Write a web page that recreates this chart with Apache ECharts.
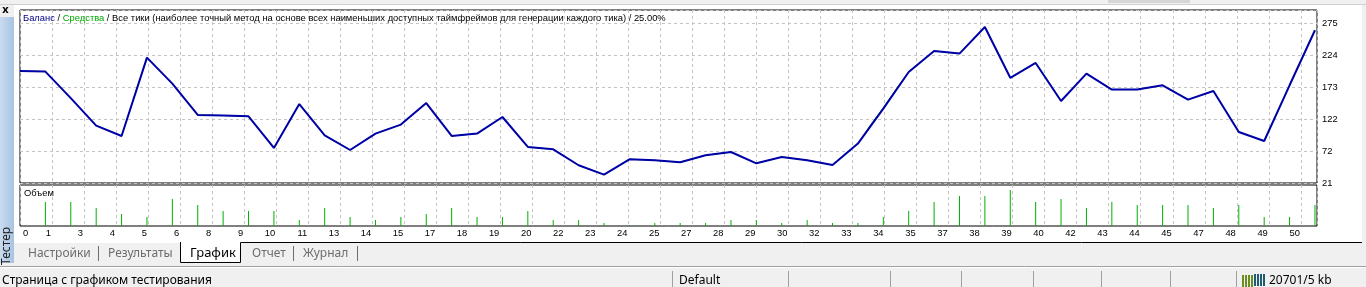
<!DOCTYPE html>
<html><head><meta charset="utf-8">
<script src="https://cdn.jsdelivr.net/npm/echarts@6/dist/echarts.min.js"></script>
<style>html,body{margin:0;padding:0;background:#f0f0f0;overflow:hidden}#c{width:1366px;height:287px;}</style>
</head><body><div id="c"></div>
<script>
// ---- data ----
const trades = [0,1,2,3,4,5,6,7,8,9,10,11,12,13,14,15,16,17,18,19,20,21,22,23,24,25,26,27,28,29,30,31,32,33,34,35,36,37,38,39,40,41,42,43,44,45,46,47,48,49,50,51];
const balance = [199.1,198.2,156.0,112.3,95.8,220.4,179.1,129.2,128.4,127.1,76.7,146.6,96.9,73.5,99.6,113.9,148.2,95.8,99.6,126.0,78.3,74.6,49.2,34.4,58.7,57.1,53.9,65.1,70.3,52.3,62.4,57.1,49.6,83.7,139.3,197.5,231.0,226.8,269.1,188.3,211.9,151.4,195.0,169.6,169.6,176.4,153.6,167.3,102.1,87.8,176.4,263.9];
const equityTrades = [0,1,2,3,4,5,6,7,8,9,10,11,12,13,14,15,16,17,18,19,20,21,22,23,24,25,26,27,28,29,30,31,32,33,33.5,34,34.5,35,36,37,38,39,40,41,42,43,44,45,46,47,48,49,50,51];
const equity = [199.1,198.2,156.0,112.3,95.8,220.4,179.1,129.2,128.4,127.1,76.7,146.6,96.9,73.5,99.6,113.9,148.2,95.8,99.6,126.0,78.3,74.6,49.2,34.4,58.7,57.1,53.9,65.1,70.3,52.3,62.4,57.1,49.6,83.7,113.5,140.5,170.0,197.5,231.0,226.8,269.1,188.3,211.9,151.4,195.0,169.6,169.6,176.4,153.6,167.3,102.1,87.8,176.4,263.9];
const volumeTrades = [1,2,3,4,5,6,7,8,9,10,11,12,13,14,15,16,17,18,19,20,21,22,23,24,25,26,27,28,29,30,31,32,33,34,35,36,37,38,39,40,41,42,43,44,45,46,47,48,49,50,51];
const volume = [8,8,6,4,3,9,7,5,5,5,2,6,3,2,3,4,6,3,3,5,2,2,1,0.3,1,1,1,2,2,1,2,1,1,3,5,8,10,10,12,8,9,6,8,7,7,7,6,7,3,3,7];
const xTickLabels = ['0','1','3','4','5','6','8','9','10','11','13','14','15','17','18','19','20','22','23','24','25','27','28','29','30','32','33','34','35','37','38','39','40','42','43','44','45','47','48','49','50'];
const yTickLabels = ['21','72','122','173','224','275'];
const titleText = 'Все тики (наиболее точный метод на основе всех наименьших доступных таймфреймов для генерации каждого тика) / 25.00%';
const tabs = ['Настройки','Результаты','График','Отчет','Журнал'];

// ---- chart ----
const FONT = 'Liberation Sans';
const UI = 'Noto Sans';
const FS = 9.4;
const X_MAX = 51.08, X_INT = 1.2611;
const Y_MIN = 21, Y_INT = 50.8, Y_MAX = 296.15;
const gridLine = {show:true, lineStyle:{color:'#c4c4c4', type:[3,3], width:1}};

const chart = echarts.init(document.getElementById('c'), null, {renderer:'canvas'});
const g = [];
// white working area
g.push({type:'rect', z:-100, silent:true, shape:{x:14,y:5,width:1348,height:238}, style:{fill:'#ffffff'}});
g.push({type:'line', z:-90, silent:true, shape:{x1:0,y1:4.5,x2:1366,y2:4.5}, style:{stroke:'#d0d0d0', lineWidth:1}});
g.push({type:'rect', z:-90, silent:true, shape:{x:1108,y:0,width:82,height:3}, style:{fill:'#d6d6d6'}});
// left strip
g.push({type:'rect', silent:true, shape:{x:0,y:17,width:14,height:246},
  style:{fill:new echarts.graphic.LinearGradient(0,0,1,0,[{offset:0,color:'#c9dbef'},{offset:1,color:'#a9c3e3'}])}});
g.push({type:'text', silent:true, x:5.5, y:10, style:{text:'x', font:'bold 11px '+UI, fill:'#000', align:'center', verticalAlign:'middle'}});
g.push({type:'text', silent:true, x:7, y:246, rotation:Math.PI/2, style:{text:'Тестер', font:'12px '+UI, fill:'#202020', align:'center', verticalAlign:'middle'}});
// tabs
const tabX = [28, 108, 190, 252, 303];
tabs.forEach((t,i)=>{
  g.push({type:'text', silent:true, x:tabX[i], y:253.5, style:{text:t, font:(i===2?'13px ':'12px ')+UI, fill:i===2?'#000':'#6d6d6d', verticalAlign:'middle'}});
});
[98.5, 293.5, 357.5].forEach(x=>g.push({type:'line', silent:true, shape:{x1:x,y1:246,x2:x,y2:261}, style:{stroke:'#6d6d6d', lineWidth:1}}));
g.push({type:'polyline', silent:true, shape:{points:[[180.5,242],[180.5,262.5],[240.5,262.5],[240.5,242.5],[1362,242.5]]}, style:{stroke:'#000', lineWidth:1, fill:null}});
g.push({type:'rect', z:-95, silent:true, shape:{x:181,y:242,width:59,height:20}, style:{fill:'#fff'}});
// status bar
g.push({type:'line', silent:true, shape:{x1:0,y1:266.5,x2:1366,y2:266.5}, style:{stroke:'#a0a0a0', lineWidth:1}});
g.push({type:'line', silent:true, shape:{x1:0,y1:267.5,x2:1366,y2:267.5}, style:{stroke:'#ffffff', lineWidth:1}});
g.push({type:'text', silent:true, x:2, y:281, style:{text:'Страница с графиком тестирования', font:'12px '+UI, fill:'#000', verticalAlign:'middle'}});
g.push({type:'text', silent:true, x:679, y:281, style:{text:'Default', font:'12px '+UI, fill:'#000', verticalAlign:'middle'}});
g.push({type:'text', silent:true, x:1269, y:281, style:{text:'20701/5 kb', font:'12px '+UI, fill:'#000', verticalAlign:'middle'}});
[672.5, 788.5, 890.5, 961.5, 1033.5, 1101.5, 1170.5, 1236.5].forEach(x=>g.push({type:'line', silent:true, shape:{x1:x,y1:271,x2:x,y2:287}, style:{stroke:'#a0a0a0', lineWidth:1}}));
const iconCols = ['#6b8e23','#6b8e23','#6b8e23','#6b8e23','#1f5c73','#1f5c73','#1f5c73','#1f5c73'];
iconCols.forEach((c,i)=>g.push({type:'rect', silent:true, shape:{x:1242+i*3,y:275+ (i<4?0:-1),width:2,height:12}, style:{fill:c}}));

const option = {
  animation:false,
  backgroundColor:'transparent',
  title:[
    {text:'{b|Баланс} / {g|Средства} / '+titleText, left:23, top:14, padding:0,
     textStyle:{fontFamily:FONT, fontSize:FS, fontWeight:'normal', color:'#000',
       rich:{b:{color:'#00008b', fontFamily:FONT, fontSize:FS}, g:{color:'#00a800', fontFamily:FONT, fontSize:FS}}}},
    {text:'Объем', left:24, top:189, padding:0, textStyle:{fontFamily:FONT, fontSize:FS, fontWeight:'normal', color:'#000'}}
  ],
  grid:[
    {left:20, top:10, width:1297, height:173, show:true, borderColor:'#000', borderWidth:1, backgroundColor:'#fff'},
    {left:20, top:185, width:1297, height:41, show:true, borderColor:'#000', borderWidth:1, backgroundColor:'#fff'}
  ],
  xAxis:[
    {type:'value', gridIndex:0, min:0, max:X_MAX, interval:X_INT, axisLine:{show:false}, axisTick:{show:false}, axisLabel:{show:false}, splitLine:gridLine},
    {type:'value', gridIndex:1, min:0, max:X_MAX, interval:X_INT, axisLine:{show:false}, axisTick:{show:false}, splitLine:gridLine,
     axisLabel:{show:true, align:'right', alignMinLabel:'left', margin:3, padding:[0,1,0,0], fontFamily:FONT, fontSize:FS, color:'#000',
       formatter:(v,i)=> i===0 ? '{z|'+xTickLabels[0]+'}' : (xTickLabels[i]!==undefined ? xTickLabels[i] : ''),
       rich:{z:{padding:[0,0,0,3], fontFamily:FONT, fontSize:FS, color:'#000'}}}}
  ],
  yAxis:[
    {type:'value', gridIndex:0, position:'right', min:Y_MIN, max:Y_MAX, interval:Y_INT, axisLine:{show:false}, axisTick:{show:false}, splitLine:gridLine,
     axisLabel:{show:true, margin:5, fontFamily:FONT, fontSize:FS, color:'#000', formatter:(v,i)=> yTickLabels[i]!==undefined ? yTickLabels[i] : ''}},
    {type:'value', gridIndex:1, position:'right', min:0, max:13.67, axisLine:{show:false}, axisTick:{show:false}, axisLabel:{show:false}, splitLine:{show:false}}
  ],
  series:[
    {name:'Средства', type:'line', xAxisIndex:0, yAxisIndex:0, symbol:'none', z:2,
     lineStyle:{color:'#00b000', width:1}, data:equityTrades.map((t,i)=>[t, equity[i]])},
    {name:'Баланс', type:'line', xAxisIndex:0, yAxisIndex:0, symbol:'none', z:3,
     lineStyle:{color:'#0000a8', width:2}, data:trades.map((t,i)=>[t, balance[i]])},
    {name:'Объем', type:'bar', xAxisIndex:1, yAxisIndex:1, barWidth:1, itemStyle:{color:'#00b000'},
     data:volumeTrades.map((t,i)=>[t, volume[i]])}
  ],
  graphic:g
};
chart.setOption(option);
</script></body></html>
